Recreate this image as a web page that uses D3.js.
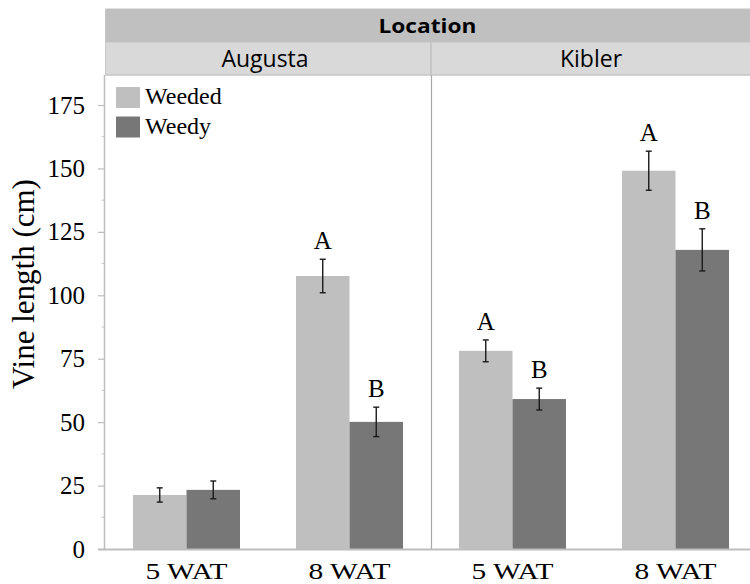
<!DOCTYPE html>
<html>
<head>
<meta charset="utf-8">
<script src="https://cdn.jsdelivr.net/npm/d3@7"></script>
<style>
  html, body { margin: 0; padding: 0; background: #fff; }
  svg { display: block; }
</style>
</head>
<body>
<svg id="chart" width="750" height="584"></svg>
<script>
// ---- data ----
const locations = ["Augusta", "Kibler"];
const timepoints = ["5 WAT", "8 WAT"];
const series = ["Weeded", "Weedy"];
// values[location][timepoint] = [Weeded, Weedy]
const augustaMeans = [[21.3, 23.3], [107.6, 50.1]];
const augustaErrors = [[2.8, 3.5], [6.6, 5.8]];
const augustaLetters = [["", ""], ["A", "B"]];
const kiblerMeans = [[78.1, 59.1], [149.1, 117.9]];
const kiblerErrors = [[4.3, 4.3], [7.7, 8.3]];
const kiblerLetters = [["A", "B"], ["A", "B"]];
const yTicks = [0, 25, 50, 75, 100, 125, 150, 175];
const yMinorTicks = [12.5, 37.5, 62.5, 87.5, 112.5, 137.5, 162.5];
const colors = ["#bfbfbf", "#777777"];

const rows = [];
[[augustaMeans, augustaErrors, augustaLetters], [kiblerMeans, kiblerErrors, kiblerLetters]].forEach((d, li) => {
  timepoints.forEach((t, ti) => {
    series.forEach((s, si) => {
      rows.push({loc: locations[li], time: t, series: s, si,
        value: d[0][ti][si], err: d[1][ti][si], letter: d[2][ti][si]});
    });
  });
});

// ---- layout ----
const svg = d3.select("#chart");
const left = 105, panelW = 326, yZero = 549, yTop = 105;
const xLoc = d3.scaleBand().domain(locations).range([left, left + 2 * panelW]).padding(0);
const xTime = d3.scaleBand().domain(timepoints).range([0, panelW]).padding(0);
const xSer = d3.scaleBand().domain(series).range([0, xTime.bandwidth()]).paddingInner(0).paddingOuter(0.523);
const y = d3.scaleLinear().domain([0, 175]).range([yZero, yTop]);
const color = d3.scaleOrdinal().domain(series).range(colors);

const serif = "'Liberation Serif', 'Times New Roman', serif";
const sans = "'Open Sans', 'Noto Sans', sans-serif";

// header strip
svg.append("rect").attr("x", left).attr("y", 9).attr("width", 750 - left).attr("height", 33).attr("fill", "#c0c0c0");
svg.append("line").attr("x1", left).attr("x2", 750).attr("y1", 8.5).attr("y2", 8.5).attr("stroke", "#e2e2e2");
svg.append("text").attr("x", 427.5).attr("y", 33)
  .attr("text-anchor", "middle").attr("font-family", sans).attr("font-weight", "bold")
  .attr("font-size", 20).attr("textLength", 98).attr("lengthAdjust", "spacingAndGlyphs")
  .attr("fill", "#000").text("Location");
svg.append("rect").attr("x", left).attr("y", 42).attr("width", 750 - left).attr("height", 33).attr("fill", "#d9d9d9");
svg.append("line").attr("x1", left).attr("x2", 750).attr("y1", 42.5).attr("y2", 42.5).attr("stroke", "#cfcfcf");
svg.append("line").attr("x1", left).attr("x2", 750).attr("y1", 75).attr("y2", 75).attr("stroke", "#c6c6c6").attr("stroke-width", 1.5);
svg.append("line").attr("x1", left + 0.5).attr("x2", left + 0.5).attr("y1", 9).attr("y2", 75).attr("stroke", "#c8c8c8");

locations.forEach(l => {
  svg.append("text").attr("x", xLoc(l) + panelW / 2 - 3).attr("y", 67)
    .attr("text-anchor", "middle").attr("font-family", sans)
    .attr("font-size", 23).attr("fill", "#000").text(l);
});
// divider between panels
svg.append("line").attr("x1", xLoc("Kibler")).attr("x2", xLoc("Kibler"))
  .attr("y1", 42).attr("y2", 75).attr("stroke", "#c6c6c6").attr("stroke-width", 2);
svg.append("line").attr("x1", xLoc("Kibler") + 0.5).attr("x2", xLoc("Kibler") + 0.5)
  .attr("y1", 75).attr("y2", yZero).attr("stroke", "#a8a8a8").attr("stroke-width", 1.2);

// y axis
const yAxis = d3.axisLeft(y).tickValues(yTicks).tickSize(7).tickPadding(13).tickFormat(d3.format("d"));
const ga = svg.append("g").attr("transform", `translate(${left},0)`).call(yAxis);
ga.select(".domain").remove();
ga.selectAll(".tick line").attr("stroke", "#bdbdbd").attr("stroke-width", 1.2);
ga.selectAll(".tick text").attr("font-family", serif).attr("font-size", 25).attr("fill", "#000");
svg.append("g").attr("transform", `translate(${left},0)`)
  .selectAll("line").data(yMinorTicks).join("line")
  .attr("x1", -3.5).attr("x2", 0).attr("y1", d => y(d)).attr("y2", d => y(d))
  .attr("stroke", "#c8c8c8").attr("stroke-width", 1);
svg.append("line").attr("x1", left - 0.5).attr("x2", left - 0.5).attr("y1", 75).attr("y2", yZero)
  .attr("stroke", "#bdbdbd").attr("stroke-width", 1.5);

// y title
svg.append("text").attr("transform", `translate(34,${284}) rotate(-90)`)
  .attr("text-anchor", "middle").attr("font-family", serif).attr("font-size", 31)
  .attr("fill", "#000").text("Vine length (cm)");

// bars
const bx = d => xLoc(d.loc) + xTime(d.time) + xSer(d.series);
svg.append("g").selectAll("rect").data(rows).join("rect")
  .attr("x", d => bx(d)).attr("width", xSer.bandwidth())
  .attr("y", d => y(d.value)).attr("height", d => y(0) - y(d.value))
  .attr("fill", d => color(d.series));

// baseline
svg.append("line").attr("x1", left - 7).attr("x2", 750).attr("y1", yZero + 0.5).attr("y2", yZero + 0.5)
  .attr("stroke", "#bdbdbd").attr("stroke-width", 2);

// error bars
const eg = svg.append("g").attr("stroke", "#1a1a1a").attr("stroke-width", 1.4);
rows.forEach(d => {
  const cx = bx(d) + xSer.bandwidth() / 2;
  eg.append("line").attr("x1", cx).attr("x2", cx).attr("y1", y(d.value + d.err)).attr("y2", y(d.value - d.err));
  eg.append("line").attr("x1", cx - 3).attr("x2", cx + 3).attr("y1", y(d.value + d.err)).attr("y2", y(d.value + d.err));
  eg.append("line").attr("x1", cx - 3).attr("x2", cx + 3).attr("y1", y(d.value - d.err)).attr("y2", y(d.value - d.err));
});

// letters
svg.append("g").selectAll("text").data(rows.filter(d => d.letter)).join("text")
  .attr("x", d => bx(d) + xSer.bandwidth() / 2)
  .attr("y", d => y(d.value + d.err) - 10)
  .attr("text-anchor", "middle").attr("font-family", serif).attr("font-size", 25)
  .attr("fill", "#000").text(d => d.letter);

// x labels
locations.forEach(l => timepoints.forEach(t => {
  svg.append("text").attr("x", xLoc(l) + xTime(t) + xTime.bandwidth() / 2).attr("y", 579)
    .attr("text-anchor", "middle").attr("font-family", serif).attr("font-size", 24)
    .attr("textLength", 82).attr("lengthAdjust", "spacingAndGlyphs")
    .attr("fill", "#000").text(t);
}));

// legend
const lg = svg.append("g");
series.forEach((s, i) => {
  lg.append("rect").attr("x", 116).attr("y", 87 + i * 29.5).attr("width", 24).attr("height", 21).attr("fill", color(s));
  lg.append("text").attr("x", 145).attr("y", 104 + i * 29.5).attr("font-family", serif)
    .attr("font-size", 24).attr("fill", "#000").text(s);
});
</script>
</body>
</html>
